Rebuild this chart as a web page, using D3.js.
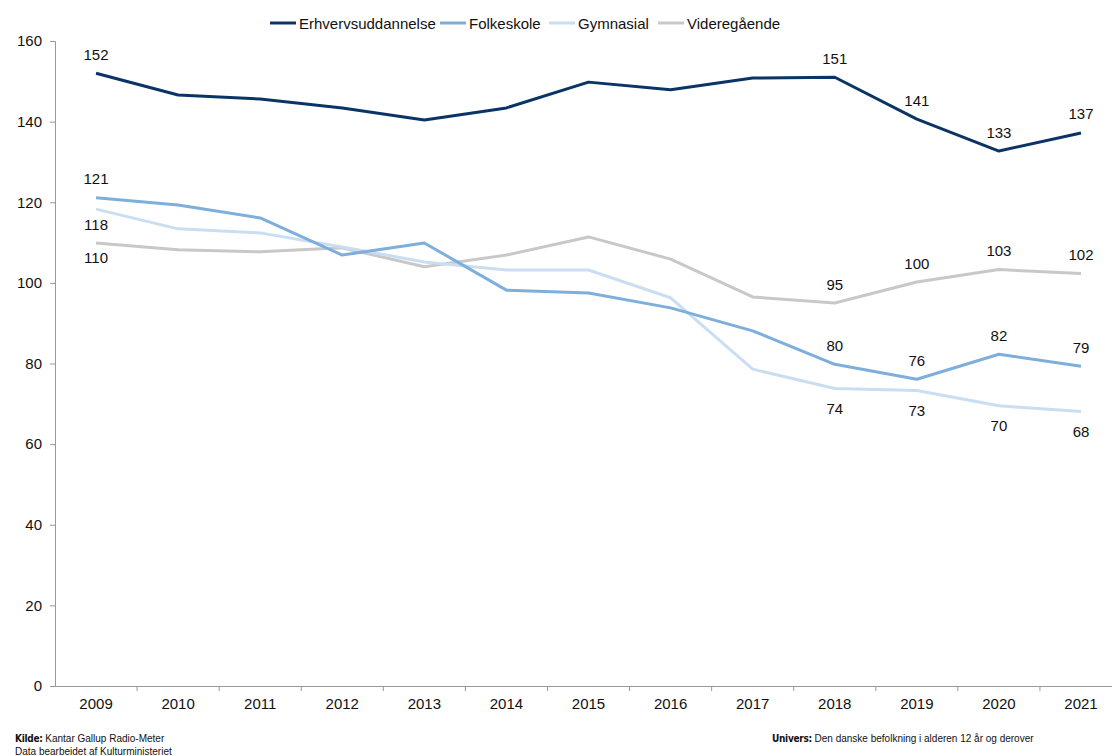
<!DOCTYPE html>
<html><head><meta charset="utf-8">
<script src="https://cdn.jsdelivr.net/npm/d3@7"></script>
<style>body{margin:0;background:#fff;} text{font-family:"Liberation Sans",Arial,sans-serif;}</style>
</head><body><svg id="c" width="1112" height="756"></svg>
<script>
const years = ["2009","2010","2011","2012","2013","2014","2015","2016","2017","2018","2019","2020","2021"];
const seriesNames = ["Erhvervsuddannelse","Folkeskole","Gymnasial","Videregående"];
const erhverv = [152,146.6,145.6,143.4,140.4,143.4,149.8,147.9,150.8,151,140.6,132.7,137.2];
const folkeskole = [121.1,119.3,116.1,106.9,109.9,98.2,97.5,93.8,88.1,79.8,76.1,82.3,79.3];
const gymnasial = [118.3,113.4,112.4,108.9,105.2,103.2,103.2,96.3,78.6,73.8,73.3,69.5,68.1];
const videregaaende = [109.9,108.2,107.7,108.7,104,106.9,111.4,105.9,96.5,95,100.2,103.3,102.3];
const labelsShown = ["2009","2018","2019","2020","2021"];
const yTicks = [0,20,40,60,80,100,120,140,160];
const colors = ["#0b3466","#7eaedb","#c9def2","#c8c8c8"];
const labelPos = ["above","above","below","below"]; // 2009
const labelPosLate = ["above","above","below","above"];

const svg = d3.select("#c");
const x = d3.scaleBand().domain(years).range([55, 55 + 13*82.08]);
const y = d3.scaleLinear().domain([0,160]).range([686, 41]);
const data = [erhverv, folkeskole, gymnasial, videregaaende];

// y axis
const ya = svg.append("g").attr("transform","translate(55,0)")
  .call(d3.axisLeft(y).tickValues(yTicks).tickSize(5).tickPadding(8));
ya.select(".domain").attr("stroke","#999");
ya.selectAll(".tick line").attr("stroke","#999");
ya.selectAll("text").attr("font-size",15).attr("fill","#111");

// x axis
const xa = svg.append("g").attr("transform","translate(0,686)")
  .call(d3.axisBottom(x).tickSize(0).tickPadding(12));
xa.select(".domain").attr("stroke","#999");
xa.selectAll("text").attr("font-size",15).attr("fill","#111");
svg.append("g").selectAll("line").data(years.slice(1)).join("line")
  .attr("x1",d=>x(d)).attr("x2",d=>x(d)).attr("y1",686).attr("y2",691).attr("stroke","#999");

const cx = d => x(d) + x.bandwidth()/2;
const line = d3.line().x((d,i)=>cx(years[i])).y(d=>y(d));
[3,2,1,0].forEach(k=>{
  svg.append("path").datum(data[k]).attr("d",line).attr("fill","none")
    .attr("stroke",colors[k]).attr("stroke-width",3).attr("stroke-linejoin","round");
});

// value labels
data.forEach((arr,k)=>{
  years.forEach((yr,i)=>{
    if(!labelsShown.includes(yr)) return;
    const pos = i===0 ? labelPos[k] : labelPosLate[k];
    const dy = pos==="above" ? -19 : (i===0 ? 15 : 20);
    svg.append("text").attr("x",cx(yr)).attr("y",y(arr[i])+dy)
      .attr("text-anchor","middle").attr("dominant-baseline","central")
      .attr("font-size",15).attr("fill","#111").text(Math.round(arr[i]));
  });
});

// legend
const legX = [270,440,549,658];
seriesNames.forEach((n,k)=>{
  const g = svg.append("g");
  g.append("line").attr("x1",legX[k]).attr("x2",legX[k]+26).attr("y1",23).attr("y2",23)
    .attr("stroke",colors[k]).attr("stroke-width",3);
  g.append("text").attr("x",legX[k]+29).attr("y",23).attr("dominant-baseline","central")
    .attr("font-size",15).attr("fill","#111").text(n);
});

// footer
const f1 = svg.append("text").attr("x",15).attr("y",742).attr("font-size",10).attr("fill","#111");
f1.append("tspan").attr("font-weight","bold").attr("font-family","'DejaVu Sans Condensed','Liberation Sans',sans-serif").attr("letter-spacing","-0.3").text("Kilde:");
f1.append("tspan").text(" Kantar Gallup Radio-Meter");
svg.append("text").attr("x",15).attr("y",755).attr("font-size",10).attr("fill","#111").text("Data bearbeidet af Kulturministeriet");
const f2 = svg.append("text").attr("x",772).attr("y",742).attr("font-size",10).attr("fill","#111");
f2.append("tspan").attr("font-weight","bold").attr("font-family","'DejaVu Sans Condensed','Liberation Sans',sans-serif").attr("letter-spacing","-0.3").text("Univers:");
f2.append("tspan").text(" Den danske befolkning i alderen 12 år og derover");
</script></body></html>
